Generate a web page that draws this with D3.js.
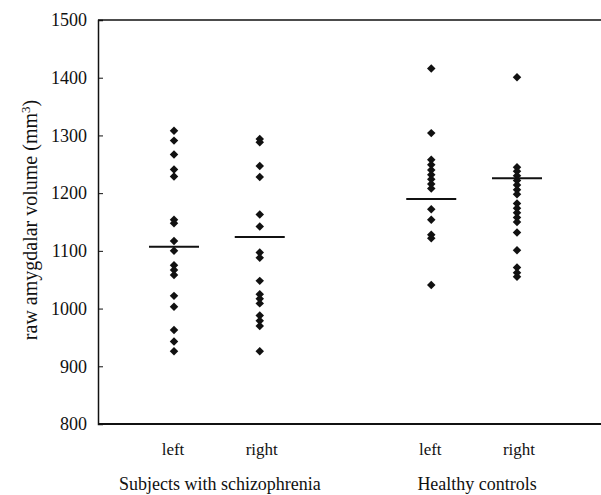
<!DOCTYPE html>
<html>
<head>
<meta charset="utf-8">
<script src="https://cdn.jsdelivr.net/npm/d3@7"></script>
<style>
  body { margin: 0; background: #fff; }
  svg { display: block; }
</style>
</head>
<body>
<div id="chart"></div>
<script>
// Values (mm^3).
const columns = ["left", "right", "left", "right"];
const columnPos = [1, 2, 4, 5];
const groups = ["Subjects with schizophrenia", "Healthy controls"];
const groupPos = [1.5, 4.5];

const schizLeft = [1308, 1291, 1267, 1241, 1229, 1154, 1148, 1117, 1100, 1075, 1067, 1058, 1022, 1003, 963, 943, 926];
const schizRight = [1294, 1288, 1247, 1228, 1163, 1142, 1097, 1088, 1048, 1025, 1017, 1009, 988, 979, 970, 926];
const healthyLeft = [1416, 1304, 1258, 1249, 1240, 1232, 1224, 1216, 1208, 1172, 1154, 1128, 1122, 1041];
const healthyRight = [1401, 1245, 1238, 1230, 1222, 1214, 1206, 1198, 1182, 1174, 1166, 1158, 1150, 1132, 1101, 1071, 1062, 1055];
const means = [1107, 1124, 1190, 1226];

const yTicks = [800, 900, 1000, 1100, 1200, 1300, 1400, 1500];

const width = 601;
const height = 495;
const margin = { top: 20, right: 0, bottom: 71, left: 98 };
const font = "'Liberation Serif', 'Times New Roman', serif";
const ink = "#111";

const svg = d3.select("#chart")
  .append("svg")
  .attr("width", width)
  .attr("height", height)
  .attr("font-family", font);

// Scales
const x = d3.scaleLinear()
  .domain([1, 5])
  .range([174, 517]);

const y = d3.scaleLinear()
  .domain([800, 1500])
  .range([height - margin.bottom, margin.top]);

// Y axis, ticks pointing into the plot
const yAxis = svg.append("g")
  .attr("transform", `translate(${margin.left},0)`)
  .call(d3.axisLeft(y).tickValues(yTicks).tickSize(-5).tickPadding(11).tickFormat(d3.format("d")));
yAxis.select(".domain").attr("stroke", ink).attr("stroke-width", 1.5);
yAxis.selectAll(".tick line").attr("stroke", ink);
yAxis.selectAll(".tick text")
  .attr("font-size", 18)
  .attr("font-family", font)
  .attr("fill", ink);

// Top and bottom frame lines
svg.append("line")
  .attr("x1", margin.left).attr("x2", width)
  .attr("y1", y(1500)).attr("y2", y(1500))
  .attr("stroke", ink).attr("stroke-width", 1.5);
svg.append("line")
  .attr("x1", margin.left).attr("x2", width)
  .attr("y1", y(800)).attr("y2", y(800))
  .attr("stroke", ink).attr("stroke-width", 2);

// Y title
const title = svg.append("text")
  .attr("transform", `translate(37,${(y(800) + y(1500)) / 2 - 2}) rotate(-90)`)
  .attr("text-anchor", "middle")
  .attr("font-size", 20)
  .attr("fill", ink);
title.append("tspan").text("raw amygdalar volume (mm");
title.append("tspan").attr("baseline-shift", "super").attr("font-size", 13).text("3");
title.append("tspan").text(")");

// Points
const series = [schizLeft, schizRight, healthyLeft, healthyRight];
const points = series.flatMap((vals, i) => vals.map((v) => ({ pos: columnPos[i], value: v })));
const diamond = d3.symbol().type(d3.symbolSquare).size(36);

svg.append("g")
  .selectAll("path")
  .data(points)
  .join("path")
  .attr("d", diamond)
  .attr("transform", (d) => `translate(${x(d.pos)},${y(d.value)}) rotate(45)`)
  .attr("fill", ink);

// Mean bars
svg.append("g")
  .selectAll("line")
  .data(means)
  .join("line")
  .attr("x1", (d, i) => x(columnPos[i]) - 25)
  .attr("x2", (d, i) => x(columnPos[i]) + 25)
  .attr("y1", (d) => y(d))
  .attr("y2", (d) => y(d))
  .attr("stroke", ink)
  .attr("stroke-width", 2);

// Column labels
svg.append("g")
  .selectAll("text")
  .data(columns)
  .join("text")
  .attr("x", (d, i) => x(columnPos[i]) + (d === "right" ? 2 : -1))
  .attr("y", 455)
  .attr("text-anchor", "middle")
  .attr("font-size", 17)
  .attr("fill", ink)
  .text((d) => d);

// Group labels
svg.append("g")
  .selectAll("text")
  .data(groups)
  .join("text")
  .attr("x", (d, i) => x(groupPos[i]) + 3)
  .attr("y", 490)
  .attr("text-anchor", "middle")
  .attr("font-size", 18)
  .attr("fill", ink)
  .text((d) => d);
</script>
</body>
</html>
